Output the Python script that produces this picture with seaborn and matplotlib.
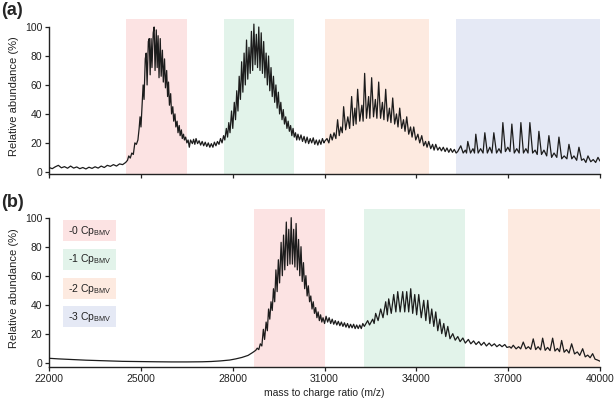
import numpy as np
import pandas as pd
import matplotlib
matplotlib.use("Agg")
import matplotlib.pyplot as plt
import seaborn as sns
from matplotlib.patches import Rectangle

# ---------------- data ----------------
# panel (a) spectrum: m/z and relative abundance (%)
mz_a = [22000, 22100, 22200, 22300, 22400, 22500, 22600, 22700, 22800, 22900,
        23000, 23100, 23200, 23300, 23400, 23500, 23600, 23700, 23800, 23900,
        24000, 24100, 24200, 24300, 24400, 24500,
        24560, 24600, 24650, 24700, 24750, 24800, 24850, 24900, 24940, 24970,
        25000, 25040, 25070, 25100, 25140, 25170, 25200, 25240, 25270, 25300,
        25330, 25360, 25400, 25430, 25460, 25500, 25530, 25560, 25590, 25630,
        25660, 25700, 25730, 25770, 25800, 25840, 25870, 25900, 25930, 25970,
        26000, 26040, 26070, 26110, 26140, 26180, 26210, 26250, 26280, 26320,
        26350, 26390, 26420, 26460, 26500, 26540, 26580, 26620,
        26680, 26720, 26760, 26800, 26850, 26900, 26950, 27000, 27050, 27100,
        27150, 27200, 27250, 27300, 27350, 27400, 27450, 27500, 27550, 27600, 27650,
        27700, 27740, 27790, 27830, 27870, 27910, 27960, 28000, 28050, 28090,
        28130, 28170, 28210, 28250, 28290, 28330, 28370, 28410, 28450, 28490,
        28530, 28570, 28610, 28650, 28690, 28730, 28770, 28810, 28850, 28890,
        28930, 28970, 29010, 29050, 29090, 29130, 29170, 29210, 29250, 29290,
        29330, 29370, 29410, 29450, 29490, 29530, 29570, 29610, 29650, 29690,
        29730, 29770, 29810, 29850, 29890, 29930, 29970, 30010, 30050, 30090, 30130,
        30180, 30230, 30280, 30330, 30380, 30430, 30480, 30530, 30580, 30630,
        30680, 30730, 30780, 30830, 30880, 30930, 30980,
        31000, 31080, 31140, 31197, 31250, 31310, 31370, 31426, 31480, 31530,
        31580, 31623, 31690, 31760, 31820, 31885, 31940, 31990, 32030, 32081,
        32150, 32220, 32260, 32310, 32370, 32440, 32480, 32539, 32600, 32660,
        32710, 32769, 32830, 32890, 32940, 32998, 33060, 33120, 33170, 33227,
        33290, 33350, 33400, 33456, 33520, 33580, 33630, 33685, 33750, 33810,
        33860, 33914, 33980, 34050, 34110, 34176, 34240, 34300, 34350, 34405,
        34470, 34530, 34580, 34634, 34700,
        34760, 34820, 34880, 34940, 35000, 35060, 35120, 35180, 35240, 35300,
        35350, 35452, 35530, 35600, 35640, 35681, 35770, 35850, 35900, 35943,
        36020, 36100, 36180, 36238, 36320, 36400, 36470, 36532, 36620, 36700,
        36770, 36827, 36910, 36990, 37060, 37121, 37200, 37280, 37360, 37416,
        37500, 37580, 37650, 37710, 37800, 37880, 37950, 38005, 38090, 38170,
        38260, 38332, 38420, 38500, 38590, 38660, 38750, 38830, 38920, 38987,
        39080, 39150, 39240, 39314, 39400, 39470, 39540, 39609, 39700, 39780,
        39860, 39936, 40000]
ab_a = [3.0, 2.2, 3.5, 4.5, 2.8, 3.6, 2.5, 4.0, 2.6, 3.4,
        2.2, 3.0, 2.0, 3.2, 2.4, 3.5, 2.6, 4.0, 3.0, 4.5,
        3.8, 5.0, 4.0, 5.5, 5.0, 6.5,
        8, 11, 9.5, 13, 12, 20, 19, 22, 30, 38,
        31, 48, 60, 50, 78, 82, 60, 90, 92, 67,
        92, 72, 96, 100, 70, 98, 72, 94, 65, 92,
        66, 84, 62, 78, 58, 70, 52, 62, 46, 54,
        40, 45, 35, 40, 31, 35, 27, 32, 25, 29,
        23, 26, 22, 24, 20, 22, 17, 22,
        19.5, 22.5, 19, 23, 19.5, 21.5, 18.5, 21, 18, 20.5,
        17.5, 20, 17, 19.5, 17, 20.5, 18, 21, 19, 23, 20,
        25, 22, 30, 24, 34, 27, 42, 30, 48, 36,
        56, 42, 66, 50, 76, 55, 82, 60, 91, 64,
        86, 68, 97, 70, 102, 74, 95, 72, 100, 70,
        96, 68, 90, 65, 82, 60, 80, 56, 72, 52,
        66, 48, 60, 44, 55, 40, 48, 36, 43, 33,
        38, 30, 35, 28, 32, 25, 30, 24, 27, 22, 26,
        22, 25.5, 21, 24.5, 20, 24, 19.5, 23, 20, 23.5,
        19, 22, 18.5, 22, 19, 23, 20,
        21, 23, 20, 26, 22, 27, 23, 36, 25, 31,
        27, 45, 29, 38, 30, 52, 32, 44, 33, 57,
        35, 46, 35, 68, 37, 52, 37, 65, 38, 50,
        37, 62, 37, 48, 36, 57, 35, 44, 34, 51,
        33, 40, 31, 44, 30, 36, 28, 38, 26, 31,
        24, 31, 22, 26, 20, 25, 18, 21, 17, 21,
        16, 19, 15, 19, 15,
        17, 14.5, 17, 14, 16.5, 13.5, 16, 13.5, 15.5, 13,
        14, 18, 13, 15, 13, 21, 13, 16, 13, 26,
        13, 16, 13, 27, 13, 17, 13, 27, 13, 16,
        13, 34, 14, 17, 14, 33, 13, 16, 13, 34,
        13, 16, 13, 34, 13, 15, 12, 28, 12, 15,
        11, 25, 10, 13, 10, 24, 9, 11, 9, 19,
        9, 11, 8, 17, 8, 9, 6.5, 11, 7, 8.5,
        6.5, 10, 7.5]

# panel (b) spectrum
mz_b = [22000, 22300, 22600, 22900, 23200, 23500, 23800, 24100, 24400, 24700,
        25000, 25500, 26000, 26500, 27000, 27300, 27600, 27900, 28100, 28300,
        28500, 28650, 28750,
        28800, 28850, 28900, 28950, 29000, 29040, 29090, 29130, 29170, 29210,
        29250, 29290, 29330, 29370, 29410, 29450, 29490, 29530, 29580, 29620,
        29660, 29700, 29750, 29790, 29830, 29870, 29910, 29950, 29990, 30030,
        30070, 30110, 30150, 30190, 30230, 30270, 30310, 30350, 30390, 30430,
        30470, 30510, 30550, 30590, 30630, 30670, 30710, 30750, 30790, 30830,
        30870, 30910, 30950, 31000,
        31050, 31100, 31150, 31200, 31250, 31300, 31350, 31400, 31450, 31500,
        31550, 31600, 31650, 31700, 31750, 31800, 31850, 31900, 31950, 32000,
        32050, 32100, 32150, 32200, 32250,
        32300, 32408, 32470, 32572, 32620, 32670, 32750, 32834, 32910, 32998,
        33050, 33096, 33180, 33260, 33330, 33391, 33470, 33554, 33620, 33685,
        33750, 33816, 33880, 33947, 34010, 34078, 34160, 34241, 34310, 34372,
        34440, 34503, 34570, 34634, 34700, 34765, 34830, 34896, 34960, 35027,
        35100, 35190, 35270, 35354, 35430, 35520, 35600,
        35700, 35780, 35870, 35950, 36040, 36120, 36210, 36290, 36380, 36460,
        36550, 36630, 36720, 36800, 36890, 36960,
        37050, 37100, 37167, 37260, 37340, 37410, 37494, 37580, 37660, 37740,
        37820, 37900, 37980, 38060, 38127, 38210, 38290, 38370, 38454, 38530,
        38610, 38680, 38748, 38830, 38910, 38990, 39075, 39170, 39260, 39340,
        39435, 39520, 39600, 39680, 39761, 39840, 39920, 40000]
ab_b = [3.0, 2.6, 2.3, 2.0, 1.7, 1.5, 1.3, 1.1, 0.9, 0.8,
        0.7, 0.6, 0.5, 0.5, 0.6, 0.8, 1.2, 1.8, 2.6, 3.6,
        5.0, 7.0, 8.5,
        10, 9, 13, 11.5, 23, 16, 28, 22, 37, 30,
        42, 36, 51, 42, 64, 49, 71, 55, 83, 60,
        88, 64, 97, 67, 92, 68, 100, 68, 92, 66,
        96, 64, 85, 60, 80, 56, 69, 51, 60, 46,
        53, 42, 46, 37, 42, 34, 38, 31, 35, 29,
        33, 28, 31, 27,
        32, 28, 31, 27, 30, 26.5, 29, 26, 28.5, 25.5,
        28, 25, 27.5, 24.5, 27, 24, 26.5, 24, 26.5, 23.5,
        26, 23.5, 26, 23.5, 27,
        25, 29, 26, 30, 27, 34, 29, 37, 31, 42,
        33, 44, 34, 47, 35, 49, 35, 49, 35, 49,
        35, 51, 34, 47, 33, 47, 31, 43, 29, 43,
        27, 37, 25, 35, 22, 30, 20, 27, 18, 25,
        16.5, 20, 15.5, 18, 14.5, 17, 13.5,
        16, 13, 15, 12.5, 14.5, 12, 14, 11.5, 13.5, 11.5,
        13, 11, 12.5, 11, 12.5, 10.5,
        11, 10, 12, 9.5, 11, 9.5, 14.2, 9.5, 11, 9.2,
        16.4, 9, 11, 8.8, 16.9, 8.5, 10.5, 8.3, 16.9, 8,
        9.8, 7.6, 15.3, 7.2, 9, 6.6, 13, 6, 7.4, 5,
        9.6, 4, 5.2, 3.4, 6.2, 2.4, 1.8, 1.0]

# shaded charge-state regions (m/z start, end)
regions_a = [(24500, 26500), (27700, 30000), (31000, 34400), (35300, 40000)]
regions_b = [(28700, 31000), (32300, 35600), (37000, 40000)]
region_colors = ["#fce3e3", "#e2f3ea", "#fdeae0", "#e5e9f5"]
legend_labels = [r"-0 Cp$_{\mathregular{BMV}}$", r"-1 Cp$_{\mathregular{BMV}}$",
                 r"-2 Cp$_{\mathregular{BMV}}$", r"-3 Cp$_{\mathregular{BMV}}$"]
x_ticks = [22000, 25000, 28000, 31000, 34000, 37000, 40000]
y_ticks = [0, 20, 40, 60, 80, 100]

# ---------------- plotting ----------------
sns.set_theme(style="ticks")
plt.rcParams["font.family"] = ["Liberation Sans", "DejaVu Sans"]
plt.rcParams["mathtext.fontset"] = "custom"
plt.rcParams["mathtext.rm"] = "Liberation Sans"
plt.rcParams["mathtext.it"] = "Liberation Sans:italic"

fig = plt.figure(figsize=(6.14, 4.01), dpi=100)
ax_a = fig.add_axes([0.0801, 0.566, 0.897, 0.3865])
ax_b = fig.add_axes([0.0801, 0.0848, 0.897, 0.394])

line_color = "#1c1c1c"
df_a = pd.DataFrame({"mz": mz_a, "ab": ab_a})
df_b = pd.DataFrame({"mz": mz_b, "ab": ab_b})

for ax, df, regs, ylim in [(ax_a, df_a, regions_a, (-1.5, 105.5)),
                           (ax_b, df_b, regions_b, (-3.0, 106))]:
    for (s, e), c in zip(regs, region_colors):
        ax.axvspan(s, e, color=c, lw=0, zorder=0)
    sns.lineplot(data=df, x="mz", y="ab", ax=ax, color=line_color,
                 linewidth=0.9, estimator=None, sort=False, zorder=3)
    ax.set_xlim(22000, 40000)
    ax.set_ylim(*ylim)
    ax.set_yticks(y_ticks)
    ax.set_xticks(x_ticks)
    ax.spines["top"].set_visible(False)
    ax.spines["right"].set_visible(False)
    ax.spines["left"].set_bounds(ylim[0], 100)
    for sp in ("left", "bottom"):
        ax.spines[sp].set_color("#222222")
        ax.spines[sp].set_linewidth(1.0)
    ax.tick_params(axis="both", direction="out", length=3, width=0.9,
                   colors="#222222", labelsize=7.5, pad=2)
    ax.set_ylabel("Relative abundance (%)", fontsize=8, labelpad=4, color="#222222")
    ax.set_xlabel("")

ax_a.set_xticklabels([])
# legend of charge states
# NOTE: tick label colors on x for (a) hidden already
ax_b.set_xlabel("mass to charge ratio (m/z)", fontsize=7.5, labelpad=3, color="#222222")
ax_b.set_xticklabels([str(t) for t in x_ticks])

box_y = [(0.797, 0.930), (0.614, 0.747), (0.430, 0.563), (0.253, 0.386)]
for (y0, y1), c, lab in zip(box_y, region_colors, legend_labels):
    ax_b.add_patch(Rectangle((0.025, y0), 0.096, y1 - y0, transform=ax_b.transAxes,
                             facecolor=c, edgecolor="none", zorder=4))
    ax_b.text(0.073, (y0 + y1) / 2, lab, transform=ax_b.transAxes, ha="center",
              va="center", fontsize=7.5, color="#222222", zorder=5)

fig.text(0.002, 0.995, "(a)", fontsize=13, fontweight="bold", ha="left", va="top")
fig.text(0.002, 0.515, "(b)", fontsize=13, fontweight="bold", ha="left", va="top")

fig.savefig("out.png", dpi=100)
